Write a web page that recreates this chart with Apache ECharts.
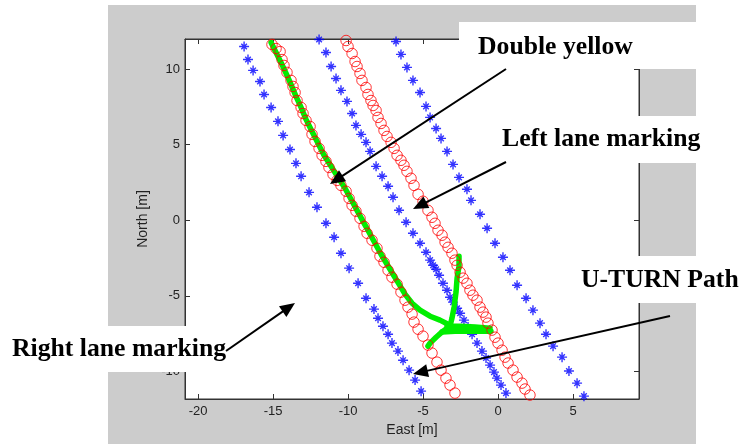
<!DOCTYPE html>
<html><head><meta charset="utf-8">
<script src="https://cdn.jsdelivr.net/npm/echarts@6/dist/echarts.min.js"></script>
<style>html,body{margin:0;padding:0;background:#fff}#c{width:741px;height:444px}</style>
</head><body><div id="c"></div>
<script>
// ---- tick labels ----
const xTicks = [-20, -15, -10, -5, 0, 5];
const yTicks = [-10, -5, 0, 5, 10];

// ---- blue "*" lane marking points [East, North] ----
const laneA = [[-16.93,11.50],[-16.67,10.64],[-16.33,9.92],[-15.87,9.19],[-15.60,8.33],[-15.13,7.47],[-14.67,6.55],[-14.33,5.62],[-13.87,4.69],[-13.47,3.77],[-13.13,2.91],[-12.60,1.85],[-12.07,0.86],[-11.47,-0.20],[-10.93,-1.12],[-10.47,-2.18],[-9.93,-3.17],[-9.33,-4.17],[-8.80,-5.16],[-8.27,-5.88],[-8.00,-6.48],[-7.67,-7.01],[-7.33,-7.54],[-7.07,-8.13],[-6.67,-8.66],[-6.33,-9.26],[-5.93,-9.92],[-5.53,-10.58],[-5.13,-11.31]];
const laneB = [[-11.93,11.97],[-11.47,11.11],[-11.13,10.18],[-10.80,9.39],[-10.47,8.60],[-10.07,7.87],[-9.73,7.07],[-9.47,6.28],[-9.13,5.69],[-8.80,5.16],[-8.53,4.56],[-8.13,3.57],[-7.73,2.91],[-7.33,2.25],[-7.00,1.52],[-6.60,0.66],[-6.13,-0.13],[-5.67,-0.86],[-5.20,-1.52],[-4.80,-2.12],[-4.53,-2.64],[-4.33,-2.98],[-4.13,-3.24],[-3.93,-3.64],[-3.67,-4.17],[-3.40,-4.63],[-3.20,-5.09],[-3.00,-5.42],[-2.73,-5.82],[-2.53,-6.15],[-2.27,-6.61],[-2.00,-7.07],[-1.73,-7.54],[-1.40,-8.13],[-1.07,-8.66],[-0.80,-9.12],[-0.53,-9.59],[-0.27,-10.05],[-0.07,-10.45],[0.20,-10.91],[0.53,-11.44]];
const laneC = [[-6.80,11.83],[-6.47,10.98],[-6.07,10.12],[-5.67,9.26],[-5.20,8.46],[-4.80,7.54],[-4.53,6.81],[-4.13,6.08],[-3.80,5.42],[-3.40,4.56],[-3.00,3.70],[-2.60,2.84],[-2.07,2.05],[-1.80,1.32],[-1.20,0.40],[-0.73,-0.53],[-0.20,-1.52],[0.33,-2.45],[0.80,-3.31],[1.27,-4.30],[1.87,-5.16],[2.33,-5.95],[2.80,-6.81],[3.20,-7.54],[3.67,-8.33],[4.27,-9.06],[4.73,-9.98],[5.27,-10.78],[5.73,-11.64]];

// ---- red "o" double-yellow points ----
const yellowD = [[-15.07,11.64],[-14.80,11.37],[-14.53,11.17],[-14.40,10.64],[-14.27,10.25],[-14.07,9.79],[-13.80,9.26],[-13.67,8.86],[-13.53,8.46],[-13.40,7.93],[-13.13,7.47],[-13.00,7.07],[-12.80,6.61],[-12.53,6.21],[-12.40,5.69],[-12.20,5.22],[-11.93,4.76],[-11.73,4.30],[-11.47,3.90],[-11.27,3.50],[-11.00,3.04],[-10.73,2.64],[-10.47,2.31],[-10.13,1.92],[-9.93,1.45],[-9.73,0.99],[-9.47,0.60],[-9.20,0.13],[-8.93,-0.40],[-8.73,-0.86],[-8.40,-1.32],[-8.07,-1.85],[-7.87,-2.38],[-7.60,-2.78],[-7.33,-3.31],[-7.07,-3.77],[-6.73,-4.23],[-6.47,-4.76],[-6.20,-5.29],[-6.00,-5.75],[-5.73,-6.21],[-5.60,-6.74],[-5.33,-7.21],[-5.00,-7.67],[-4.67,-8.26],[-4.40,-8.79],[-4.07,-9.39],[-3.80,-9.92],[-3.47,-10.45],[-3.20,-10.91],[-2.87,-11.44]];
const yellowE = [[-10.13,11.90],[-10.00,11.50],[-9.73,11.04],[-9.53,10.51],[-9.40,10.18],[-9.20,9.72],[-9.07,9.26],[-8.80,8.79],[-8.67,8.33],[-8.47,7.93],[-8.33,7.60],[-8.13,7.27],[-8.00,6.81],[-7.80,6.41],[-7.60,5.95],[-7.40,5.55],[-7.13,5.16],[-6.93,4.76],[-6.73,4.30],[-6.47,3.97],[-6.27,3.64],[-6.07,3.24],[-5.80,2.78],[-5.60,2.31],[-5.33,1.72],[-5.00,1.26],[-4.67,0.66],[-4.40,0.20],[-4.20,-0.20],[-4.00,-0.66],[-3.73,-0.99],[-3.53,-1.45],[-3.33,-1.79],[-3.07,-2.18],[-2.87,-2.64],[-2.73,-2.98],[-2.53,-3.44],[-2.33,-3.83],[-2.07,-4.17],[-1.87,-4.63],[-1.67,-4.96],[-1.40,-5.29],[-1.20,-5.75],[-1.00,-6.08],[-0.80,-6.41],[-0.67,-6.81],[-0.40,-7.27],[-0.20,-7.74],[0.00,-8.13],[0.27,-8.60],[0.47,-9.06],[0.67,-9.45],[1.00,-9.92],[1.27,-10.38],[1.60,-10.78],[1.80,-11.17],[2.13,-11.57]];

// ---- green U-turn path ----
const pathMain = [[-15.13,11.77],[-14.80,11.11],[-14.47,10.45],[-14.13,9.72],[-13.80,8.99],[-13.47,8.20],[-13.13,7.47],[-12.80,6.68],[-12.40,5.88],[-12.00,5.09],[-11.60,4.30],[-11.13,3.57],[-10.67,2.84],[-10.20,2.12],[-9.80,1.39],[-9.40,0.66],[-9.00,-0.07],[-8.60,-0.79],[-8.20,-1.52],[-7.80,-2.25],[-7.40,-2.91],[-7.00,-3.57],[-6.60,-4.23],[-6.20,-4.89],[-5.73,-5.49],[-5.20,-5.95],[-4.53,-6.35],[-3.87,-6.61],[-3.33,-6.88]];
const pathUp = [[-3.20,-7.01],[-3.07,-6.48],[-2.93,-5.75],[-2.80,-4.76],[-2.73,-3.83],[-2.60,-3.04],[-2.60,-2.38]];
const pathRight1 = [[-3.40,-7.01],[-2.53,-7.01],[-1.53,-7.07],[-0.53,-7.14]];
const pathRight2 = [[-3.73,-7.40],[-2.87,-7.34],[-1.87,-7.34],[-0.47,-7.34]];
const pathDown = [[-3.20,-7.01],[-3.67,-7.34],[-4.13,-7.74],[-4.53,-8.13],[-4.67,-8.33]];

const chart = echarts.init(document.getElementById('c'), null, {renderer: 'canvas'});
const SANS = '"Liberation Sans", Arial, sans-serif';
const SERIF = '"Liberation Serif", "Times New Roman", serif';
const AX = '#333';
const X0 = -20.87, X1 = 9.4, Y0 = -11.83, Y1 = 12;

function axis(extra) {
  return Object.assign({
    type: 'value',
    axisLine: {show: true, onZero: false, lineStyle: {color: AX, width: 1}},
    splitLine: {show: false}
  }, extra);
}
const starPath = 'path://M5,0L5,10M0,5L10,5M2.2,2.2L7.8,7.8M2.2,7.8L7.8,2.2';
function stars(data) {
  return {type: 'scatter', data, symbol: starPath, symbolSize: 10, z: 2,
    itemStyle: {color: 'transparent', borderColor: '#0000ff', borderWidth: 1.4}, silent: true};
}
function circles(data) {
  return {type: 'scatter', data, symbol: 'circle', symbolSize: 10.5, z: 4,
    itemStyle: {color: 'transparent', borderColor: '#ff0000', borderWidth: 1}, silent: true};
}
function green(data) {
  return {type: 'line', data, showSymbol: false, z: 3, silent: true,
    lineStyle: {color: '#00ee00', width: 5.5, cap: 'round', join: 'round'}};
}
function arrow(x1, y1, x2, y2) {
  const dx = x2 - x1, dy = y2 - y1, L = Math.hypot(dx, dy), ux = dx / L, uy = dy / L;
  const len = 15, hw = 6.5, bx = x2 - ux * len, by = y2 - uy * len;
  return [
    {type: 'line', z: 101, silent: true, shape: {x1, y1, x2: bx + ux * 2, y2: by + uy * 2}, style: {stroke: '#000', lineWidth: 2}},
    {type: 'polygon', z: 101, silent: true, shape: {points: [[x2, y2], [bx - uy * hw, by + ux * hw], [bx + uy * hw, by - ux * hw]]}, style: {fill: '#000'}}
  ];
}
function label(x, y, text) {
  return {type: 'text', z: 102, silent: true, style: {x, y, text, font: 'bold 25.7px ' + SERIF, fill: '#000',
    textAlign: 'left', textVerticalAlign: 'middle', verticalAlign: 'middle'}};
}
function box(x, y, w, h) {
  return {type: 'rect', z: 100, silent: true, shape: {x, y, width: w, height: h}, style: {fill: '#fff'}};
}

chart.setOption({
  animation: false,
  backgroundColor: '#fff',
  grid: {left: 185, top: 39, width: 454, height: 360, show: true, backgroundColor: '#fff', borderColor: AX, borderWidth: 1, containLabel: false},
  xAxis: [
    axis({min: X0, max: X1, position: 'bottom',
      axisTick: {show: true, inside: true, length: 5, customValues: xTicks, lineStyle: {color: AX}},
      axisLabel: {customValues: xTicks, fontSize: 13, color: '#222', margin: 6, fontFamily: SANS},
      name: 'East [m]', nameLocation: 'middle', nameGap: 22,
      nameTextStyle: {fontSize: 14, color: '#222', fontFamily: SANS}}),
    axis({min: X0, max: X1, position: 'top',
      axisTick: {show: true, inside: true, length: 5, customValues: xTicks, lineStyle: {color: AX}},
      axisLabel: {show: false}})
  ],
  yAxis: [
    axis({min: Y0, max: Y1, position: 'left',
      axisTick: {show: true, inside: true, length: 5, customValues: yTicks, lineStyle: {color: AX}},
      axisLabel: {customValues: yTicks, fontSize: 13, color: '#222', margin: 5, fontFamily: SANS},
      name: 'North [m]', nameLocation: 'middle', nameGap: 32, nameRotate: 90,
      nameTextStyle: {fontSize: 14, color: '#222', fontFamily: SANS}}),
    axis({min: Y0, max: Y1, position: 'right',
      axisTick: {show: true, inside: true, length: 5, customValues: yTicks, lineStyle: {color: AX}},
      axisLabel: {show: false}})
  ],
  series: [
    stars(laneA), stars(laneB), stars(laneC),
    green(pathMain), green(pathUp), green(pathRight1), green(pathRight2), green(pathDown),
    circles(yellowD), circles(yellowE)
  ],
  graphic: [
    {type: 'rect', z: -10, silent: true, shape: {x: 108, y: 5, width: 588, height: 439}, style: {fill: '#cccccc'}},
    box(459, 22, 282, 47),
    box(490, 116, 251, 47),
    box(570, 256, 171, 47),
    box(0, 326, 274, 46),
    label(478, 47.5, 'Double yellow'),
    label(502, 139.5, 'Left lane marking'),
    label(581, 280, 'U-TURN Path'),
    label(12, 349, 'Right lane marking'),
    ...arrow(506, 69, 330, 184),
    ...arrow(506, 162, 413, 209),
    ...arrow(670, 316, 413, 374),
    ...arrow(226, 351, 295, 303)
  ]
});
</script></body></html>
